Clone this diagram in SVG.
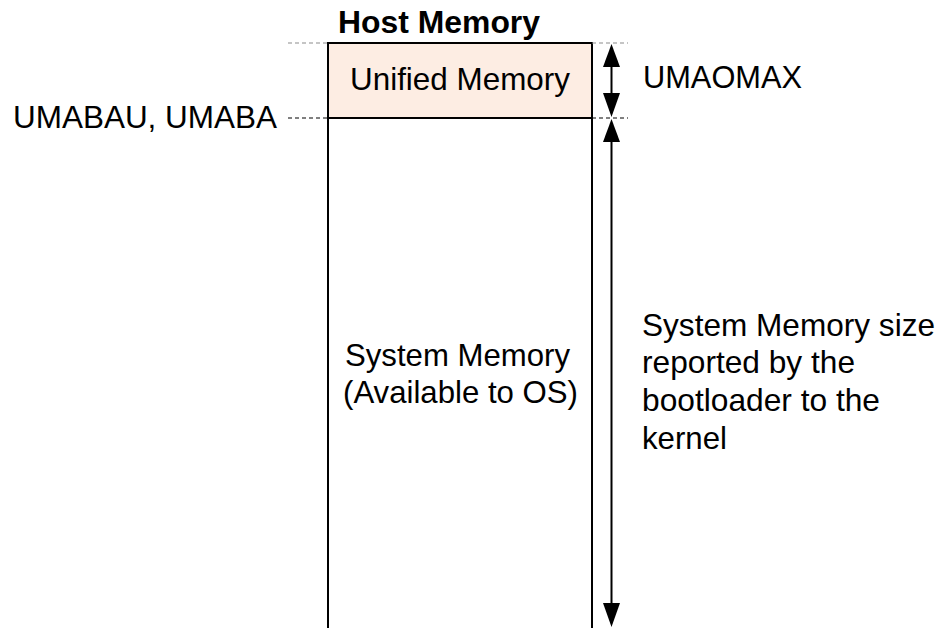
<svg xmlns="http://www.w3.org/2000/svg" width="943" height="628" viewBox="0 0 943 628">
<style>
text{font-family:"Liberation Sans",Arial,Helvetica,sans-serif;font-size:32px;fill:#000}
.b{font-weight:bold}
.box{stroke:#000;stroke-width:2}
.dg{stroke:#8c8c8c;stroke-width:1.2;stroke-dasharray:4 3;fill:none}
.dk{stroke:#000;stroke-width:1;stroke-dasharray:4 3;fill:none}
.ln{stroke:#000;stroke-width:2;fill:none}
.hd{fill:#000}
</style>
<rect width="943" height="628" fill="#fff"/>
<text class="b" x="338" y="33" textLength="202" lengthAdjust="spacingAndGlyphs">Host Memory</text>
<g id="unified-memory">
<rect x="328" y="43" width="264" height="75" fill="#fdede3" class="box"/>
<text x="350" y="90" textLength="220" lengthAdjust="spacingAndGlyphs">Unified Memory</text>
</g>
<g id="system-memory">
<path class="box" fill="none" d="M328,118 V628 M592,118 V628"/>
<text x="345" y="366" textLength="225" lengthAdjust="spacingAndGlyphs">System Memory</text>
<text x="343" y="403" textLength="235" lengthAdjust="spacingAndGlyphs">(Available to OS)</text>
</g>
<g id="labels">
<text x="13" y="128" textLength="264" lengthAdjust="spacingAndGlyphs">UMABAU, UMABA</text>
<text x="643" y="88" textLength="159" lengthAdjust="spacingAndGlyphs">UMAOMAX</text>
<text x="642" y="336" textLength="293" lengthAdjust="spacingAndGlyphs">System Memory size</text>
<text x="642" y="373" textLength="213" lengthAdjust="spacingAndGlyphs">reported by the</text>
<text x="642" y="411" textLength="238" lengthAdjust="spacingAndGlyphs">bootloader to the</text>
<text x="642" y="449" textLength="85" lengthAdjust="spacingAndGlyphs">kernel</text>
</g>
<g id="connectors">
<path class="dg" d="M288,43 H328 M592,43 H628"/>
<path class="dk" d="M288,118 H328 M592,118 H628"/>
<path class="ln" d="M611.5,64 V95"/>
<polygon class="hd" points="611.5,44 603,67 620,67"/>
<polygon class="hd" points="611.5,117 603,93 620,93"/>
<path class="ln" d="M611.5,139 V605"/>
<polygon class="hd" points="611.5,119 603,142 620,142"/>
<polygon class="hd" points="611.5,627 603,603 620,603"/>
</g>
</svg>
